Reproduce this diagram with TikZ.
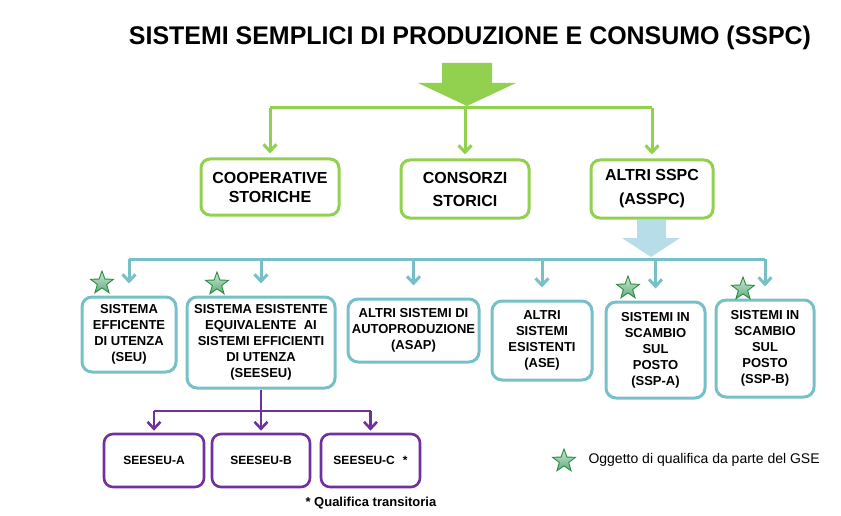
\documentclass[tikz,border=0pt]{standalone}
\usepackage{fontspec}
\setmainfont{Liberation Sans}
\usetikzlibrary{positioning, shapes.geometric, arrows.meta}
\definecolor{verde}{RGB}{146,208,80}
\definecolor{azzurro}{RGB}{120,192,200}
\definecolor{azzchiaro}{RGB}{183,222,232}
\definecolor{viola}{RGB}{112,48,160}
\definecolor{stellabordo}{RGB}{40,140,60}
\definecolor{stellasu}{RGB}{205,232,215}
\definecolor{stellagiu}{RGB}{95,172,125}

\tikzset{
  boxverde/.style={draw=verde, line width=3pt, rounded corners=9pt, align=center, inner sep=0pt},
  boxblu/.style={draw=azzurro, line width=3pt, rounded corners=10pt, align=center, inner sep=0pt,
    font=\bfseries\fontsize{13}{16}\selectfont},
  boxviola/.style={draw=viola, line width=2.6pt, rounded corners=9pt, align=center, inner sep=0pt,
    minimum height=53pt, font=\bfseries\fontsize{12}{14}\selectfont},
  punta/.style={-{Straight Barb[length=7pt,width=13pt]}},
  stellina/.style={star, star points=5, star point ratio=2.45, minimum size=24pt, inner sep=0pt,
    draw=stellabordo, line width=0.9pt, top color=stellasu, bottom color=stellagiu}
}

\begin{document}
\begin{tikzpicture}[x=1pt, y=-1pt]
\useasboundingbox (0,0) rectangle (841,516);

% titolo
\node (titolo) at (470,38) {\resizebox{682pt}{18.5pt}{\bfseries SISTEMI SEMPLICI DI PRODUZIONE E CONSUMO (SSPC)}};

% freccia verde
\fill[verde] (442,63) -- (492,63) -- (492,83) -- (516,83) -- (467,106) -- (418,83) -- (442,83) -- cycle;
\coordinate (bus1) at (467,108);

% primo livello
\node[boxverde, minimum width=138pt, minimum height=56pt, font=\bfseries\fontsize{16}{19}\selectfont]
  (coop) at (270,187) {COOPERATIVE\\STORICHE};
\node[boxverde, minimum width=128pt, minimum height=58pt, font=\bfseries\fontsize{16}{23}\selectfont]
  (cons) at (465,189) {CONSORZI\\STORICI};
\node[boxverde, minimum width=122pt, minimum height=58pt, font=\bfseries\fontsize{16}{24}\selectfont]
  (asspc) at (652,189) {ALTRI SSPC\\(ASSPC)};

\draw[verde, line width=3pt] (bus1 -| coop.north) -- (bus1 -| asspc.north);
\foreach \n in {coop, cons, asspc}
  \draw[verde, line width=3pt, punta, shorten >=4pt] (bus1 -| \n.north) -- (\n.north);

% freccia azzurra
\fill[azzchiaro] (637,220) -- (666,220) -- (666,238) -- (680,238) -- (651,257) -- (622,238) -- (637,238) -- cycle;
\coordinate (bus2) at (651,259);

% secondo livello
\node[boxblu, minimum width=94pt, minimum height=75pt] (seu) at (129,334.5)
  {SISTEMA\\EFFICENTE\\DI UTENZA\\(SEU)};
\node[boxblu, minimum width=148pt, minimum height=91pt] (seeseu) at (261,342.5)
  {SISTEMA ESISTENTE\\EQUIVALENTE\ \ AI\\SISTEMI EFFICIENTI\\DI UTENZA\\(SEESEU)};
\node[boxblu, minimum width=131pt, minimum height=63pt] (asap) at (413.5,330.5)
  {ALTRI SISTEMI DI\\AUTOPRODUZIONE\\(ASAP)};
\node[boxblu, minimum width=100pt, minimum height=79pt] (ase) at (542,340.5)
  {ALTRI\\SISTEMI\\ESISTENTI\\(ASE)};
\node[boxblu, minimum width=99pt, minimum height=96pt] (sspa) at (655.5,350)
  {SISTEMI IN\\SCAMBIO\\SUL\\POSTO\\(SSP-A)};
\node[boxblu, minimum width=98pt, minimum height=97pt] (sspb) at (765,348.5)
  {SISTEMI IN\\SCAMBIO\\SUL\\POSTO\\(SSP-B)};

\draw[azzurro, line width=3pt] (bus2 -| seu.north) -- (bus2 -| sspb.north);
\foreach \n in {seu, seeseu, asap, ase, sspa, sspb}
  \draw[azzurro, line width=3pt, punta, shorten >=12pt] (bus2 -| \n.north) -- (\n.north);

% stelle
\node[stellina] (st1) at (102,283) {};
\node[stellina] (st2) at (217,284) {};
\node[stellina] (st3) at (628,288) {};
\node[stellina] (st4) at (743,289) {};

% terzo livello
\coordinate (bus3) at (261,411);
\node[boxviola, minimum width=100pt] (sa) at (154,460.5) {SEESEU-A};
\node[boxviola, minimum width=98pt] (sb) at (261,460.5) {SEESEU-B};
\node[boxviola, minimum width=99pt] (sc) at (370.5,460.5) {SEESEU-C\hspace{8pt}*};

\draw[viola, line width=2.6pt] (seeseu.south) -- (bus3);
\draw[viola, line width=2.6pt] (bus3 -| sa.north) -- (bus3 -| sc.north);
\foreach \n in {sa, sb, sc}
  \draw[viola, line width=2.6pt, punta, shorten >=2pt] (bus3 -| \n.north) -- (\n.north);

\node[font=\bfseries\fontsize{13}{15}\selectfont, anchor=west] (nota) at (302,503) {* Qualifica transitoria};

% legenda
\node[stellina] (st5) at (564,461) {};
\node[font=\fontsize{14}{16}\selectfont, anchor=west] (legenda) at (585,460) {Oggetto di qualifica da parte del GSE};
\end{tikzpicture}
\end{document}
